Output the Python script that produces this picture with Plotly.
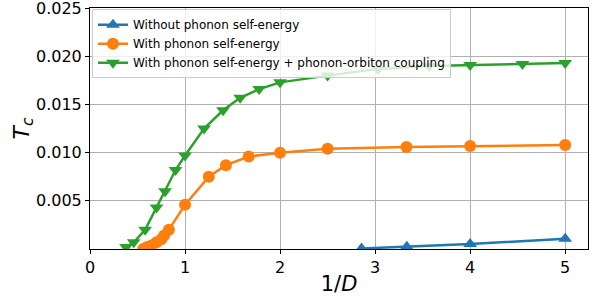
import plotly.graph_objects as go

# Data
blue_x = [2.857, 3.333, 4.0, 5.0]
blue_y = [0.00005, 0.00024, 0.00052, 0.00107]

orange_x = [0.56, 0.60, 0.65, 0.70, 0.75, 0.78, 0.83, 1.0, 1.25, 1.43, 1.67, 2.0, 2.5, 3.33, 4.0, 5.0]
orange_y = [0.0000, 0.0002, 0.0004, 0.0007, 0.0010, 0.0014, 0.0020, 0.0046, 0.0075, 0.0087, 0.0096,
            0.0100, 0.0104, 0.0106, 0.0107, 0.0108]

green_x = [0.38, 0.46, 0.58, 0.70, 0.79, 0.90, 1.0, 1.2, 1.4, 1.58, 1.78, 2.0, 2.5, 3.03, 3.57, 4.0, 4.55, 5.0]
green_y = [0.0002, 0.0007, 0.0020, 0.0043, 0.0060, 0.0082, 0.0097, 0.0125, 0.0144, 0.0157, 0.0166,
           0.0173, 0.0180, 0.0187, 0.0190, 0.0191, 0.0192, 0.0193]

names = ["Without phonon self-energy",
         "With phonon self-energy",
         "With phonon self-energy + phonon-orbiton coupling"]
x_ticks = [0, 1, 2, 3, 4, 5]
y_ticks = [0.005, 0.010, 0.015, 0.020, 0.025]
y_tick_text = ["0.005", "0.010", "0.015", "0.020", "0.025"]

FONT = "DejaVu Sans"

fig = go.Figure()
fig.add_trace(go.Scatter(x=blue_x, y=blue_y, name=names[0], mode="lines+markers",
                         line=dict(color="#1f77b4", width=2.5),
                         marker=dict(symbol="triangle-up", size=12, color="#1f77b4")))
fig.add_trace(go.Scatter(x=orange_x, y=orange_y, name=names[1], mode="lines+markers",
                         line=dict(color="#ff7f0e", width=2.5),
                         marker=dict(symbol="circle", size=12, color="#ff7f0e")))
fig.add_trace(go.Scatter(x=green_x, y=green_y, name=names[2], mode="lines+markers",
                         line=dict(color="#2ca02c", width=2.5),
                         marker=dict(symbol="triangle-down", size=12, color="#2ca02c")))

fig.update_layout(
    width=597, height=299,
    margin=dict(l=90, r=9, t=8, b=50, autoexpand=False),
    paper_bgcolor="white", plot_bgcolor="white",
    font=dict(family=FONT, color="black"),
    showlegend=True,
    legend=dict(x=0.004, y=0.995, xanchor="left", yanchor="top",
                bgcolor="rgba(255,255,255,0.8)", bordercolor="#cccccc", borderwidth=1,
                font=dict(size=12, family=FONT), itemwidth=30,
                tracegroupgap=0),
)
fig.update_xaxes(range=[0, 5.24], tickvals=x_ticks, ticktext=[str(v) for v in x_ticks],
                 automargin=False, ticklabeloverflow="allow",
                 showgrid=True, gridcolor="#b0b0b0", gridwidth=1,
                 showline=True, linecolor="black", linewidth=1, mirror=True,
                 ticks="outside", ticklen=4, tickcolor="black",
                 tickfont=dict(size=16, family=FONT), zeroline=False,
                 title=dict(text="1/<i>D</i>", font=dict(size=21, family=FONT), standoff=0))
fig.update_yaxes(range=[0, 0.02502], tickvals=y_ticks, ticktext=y_tick_text,
                 automargin=False, ticklabeloverflow="allow",
                 showgrid=True, gridcolor="#b0b0b0", gridwidth=1,
                 showline=True, linecolor="black", linewidth=1, mirror=True,
                 ticks="outside", ticklen=4, tickcolor="black",
                 tickfont=dict(size=16, family=FONT), zeroline=False,
                 title=dict(text="<i>T</i><sub><i>c</i></sub>", font=dict(size=22, family=FONT), standoff=0))

fig.write_html("out.html", config={"displayModeBar": False},
               post_script="document.body.style.margin='0';")
